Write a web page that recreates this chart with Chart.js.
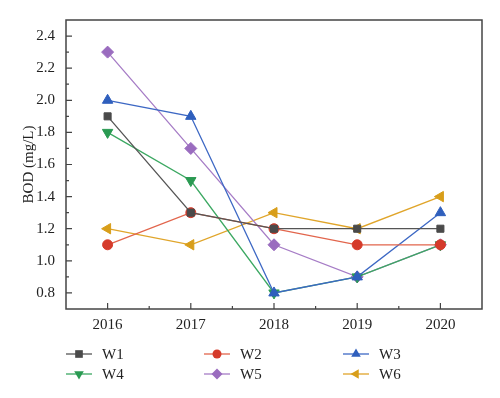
<!DOCTYPE html>
<html>
<head>
<meta charset="utf-8">
<script src="https://cdn.jsdelivr.net/npm/chart.js@4/dist/chart.umd.min.js"></script>
<style>
  html, body { margin: 0; padding: 0; background: #fff; }
  #wrap { width: 500px; height: 398px; }
</style>
</head>
<body>
<div id="wrap"><canvas id="c" width="500" height="398"></canvas></div>
<script>
// years on the x axis
var years = [2016, 2017, 2018, 2019, 2020];
var yTicks = [0.8, 1.0, 1.2, 1.4, 1.6, 1.8, 2.0, 2.2, 2.4];

// BOD (mg/L) per station
var w1 = [1.9, 1.3, 1.2, 1.2, 1.2];
var w2 = [1.1, 1.3, 1.2, 1.1, 1.1];
var w3 = [2.0, 1.9, 0.8, 0.9, 1.3];
var w4 = [1.8, 1.5, 0.8, 0.9, 1.1];
var w5 = [2.3, 1.7, 1.1, 0.9, 1.1];
var w6 = [1.2, 1.1, 1.3, 1.2, 1.4];

var seriesNames = ["W1", "W2", "W3", "W4", "W5", "W6"];
var seriesValues = [w1, w2, w3, w4, w5, w6];

var lineColors = ["#555555", "#e2654c", "#3d68c4", "#3ca862", "#a67cc6", "#e0a52a"];
var markColors = ["#4a4a4a", "#d53b2b", "#2f5fbd", "#2a9a52", "#9a6cbf", "#d89e1a"];
var markStyles = ["rect", "circle", "triangle", "triangle", "rectRot", "triangle"];
var markRot = [0, 0, 0, 180, 0, -90];
var markRadius = [5, 5, 6, 6, 6, 6];

var FONT = "'Liberation Serif', 'DejaVu Serif', serif";

function toPoints(vals) {
    return vals.map(function (v, i) { return { x: years[i], y: v }; });
}

var datasets = seriesNames.map(function (name, i) {
    return {
        label: name,
        data: toPoints(seriesValues[i]),
        borderColor: lineColors[i],
        borderWidth: 1.3,
        backgroundColor: markColors[i],
        pointBackgroundColor: markColors[i],
        pointBorderColor: markColors[i],
        pointBorderWidth: 1,
        pointStyle: markStyles[i],
        pointRotation: markRot[i],
        pointRadius: markRadius[i],
        tension: 0
    };
});

// simple marker painter for the legend
function drawMarker(ctx, style, rot, r, x, y, color) {
    ctx.save();
    ctx.translate(x, y);
    ctx.rotate(rot * Math.PI / 180);
    ctx.fillStyle = color;
    ctx.beginPath();
    if (style === "rect") {
        var s = r * 0.85;
        ctx.rect(-s, -s, 2 * s, 2 * s);
    } else if (style === "circle") {
        ctx.arc(0, 0, r, 0, Math.PI * 2);
    } else if (style === "rectRot") {
        ctx.moveTo(0, -r); ctx.lineTo(r, 0); ctx.lineTo(0, r); ctx.lineTo(-r, 0);
    } else {
        ctx.moveTo(0, -r); ctx.lineTo(r * 0.87, r * 0.5); ctx.lineTo(-r * 0.87, r * 0.5);
    }
    ctx.closePath();
    ctx.fill();
    ctx.restore();
}

var framePlugin = {
    id: "frame",
    afterDraw: function (chart) {
        var ctx = chart.ctx;
        var a = chart.chartArea;
        var xs = chart.scales.x, ys = chart.scales.y;
        ctx.save();
        ctx.strokeStyle = "#444";
        ctx.lineWidth = 1.5;
        ctx.strokeRect(a.left, a.top, a.right - a.left, a.bottom - a.top);

        // inward ticks
        ctx.lineWidth = 1.2;
        ctx.beginPath();
        yTicks.forEach(function (v) {
            var py = ys.getPixelForValue(v);
            ctx.moveTo(a.left, py); ctx.lineTo(a.left + 6, py);
            var pm = ys.getPixelForValue(v + 0.1);
            if (v + 0.1 < 2.5) { ctx.moveTo(a.left, pm); ctx.lineTo(a.left + 3, pm); }
        });
        years.forEach(function (yr, i) {
            var px = xs.getPixelForValue(yr);
            ctx.moveTo(px, a.bottom); ctx.lineTo(px, a.bottom - 6);
            if (i < years.length - 1) {
                var pm = xs.getPixelForValue(yr + 0.5);
                ctx.moveTo(pm, a.bottom); ctx.lineTo(pm, a.bottom - 3);
            }
        });
        ctx.stroke();

        // legend, 3 columns x 2 rows
        var colX = [66, 204, 343];
        var rowY = [354, 374];
        ctx.font = "15px " + FONT;
        ctx.textBaseline = "middle";
        ctx.textAlign = "left";
        seriesNames.forEach(function (name, i) {
            var cx = colX[i % 3], cy = rowY[Math.floor(i / 3)];
            ctx.strokeStyle = lineColors[i];
            ctx.lineWidth = 1.3;
            ctx.beginPath();
            ctx.moveTo(cx, cy); ctx.lineTo(cx + 26, cy);
            ctx.stroke();
            drawMarker(ctx, markStyles[i], markRot[i], markRadius[i] - 0.5, cx + 13, cy, markColors[i]);
            ctx.fillStyle = "#222";
            ctx.fillText(name, cx + 36, cy + 1);
        });
        ctx.restore();
    }
};

new Chart(document.getElementById("c"), {
    type: "line",
    data: { datasets: datasets },
    options: {
        responsive: false,
        animation: false,
        layout: { padding: { top: 18, right: 18, bottom: 59, left: 0 } },
        plugins: { legend: { display: false }, tooltip: { enabled: false } },
        scales: {
            x: {
                type: "linear",
                min: 2015.5,
                max: 2020.5,
                afterBuildTicks: function (s) { s.ticks = years.map(function (v) { return { value: v }; }); },
                afterFit: function (s) { s.height = 30; },
                grid: { display: false, drawTicks: false },
                border: { display: false },
                ticks: {
                    padding: 7,
                    color: "#222",
                    font: { family: FONT, size: 15 },
                    callback: function (v) { return String(v); }
                }
            },
            y: {
                min: 0.7,
                max: 2.5,
                afterBuildTicks: function (s) { s.ticks = yTicks.map(function (v) { return { value: v }; }); },
                afterFit: function (s) { s.width = 66; },
                grid: { display: false, drawTicks: false },
                border: { display: false },
                title: {
                    display: true,
                    text: "BOD (mg/L)",
                    color: "#222",
                    font: { family: FONT, size: 15 },
                    padding: { top: 20, bottom: 0 }
                },
                ticks: {
                    padding: 11,
                    color: "#222",
                    font: { family: FONT, size: 15 },
                    callback: function (v) { return v.toFixed(1); }
                }
            }
        }
    },
    plugins: [framePlugin]
});
</script>
</body>
</html>
